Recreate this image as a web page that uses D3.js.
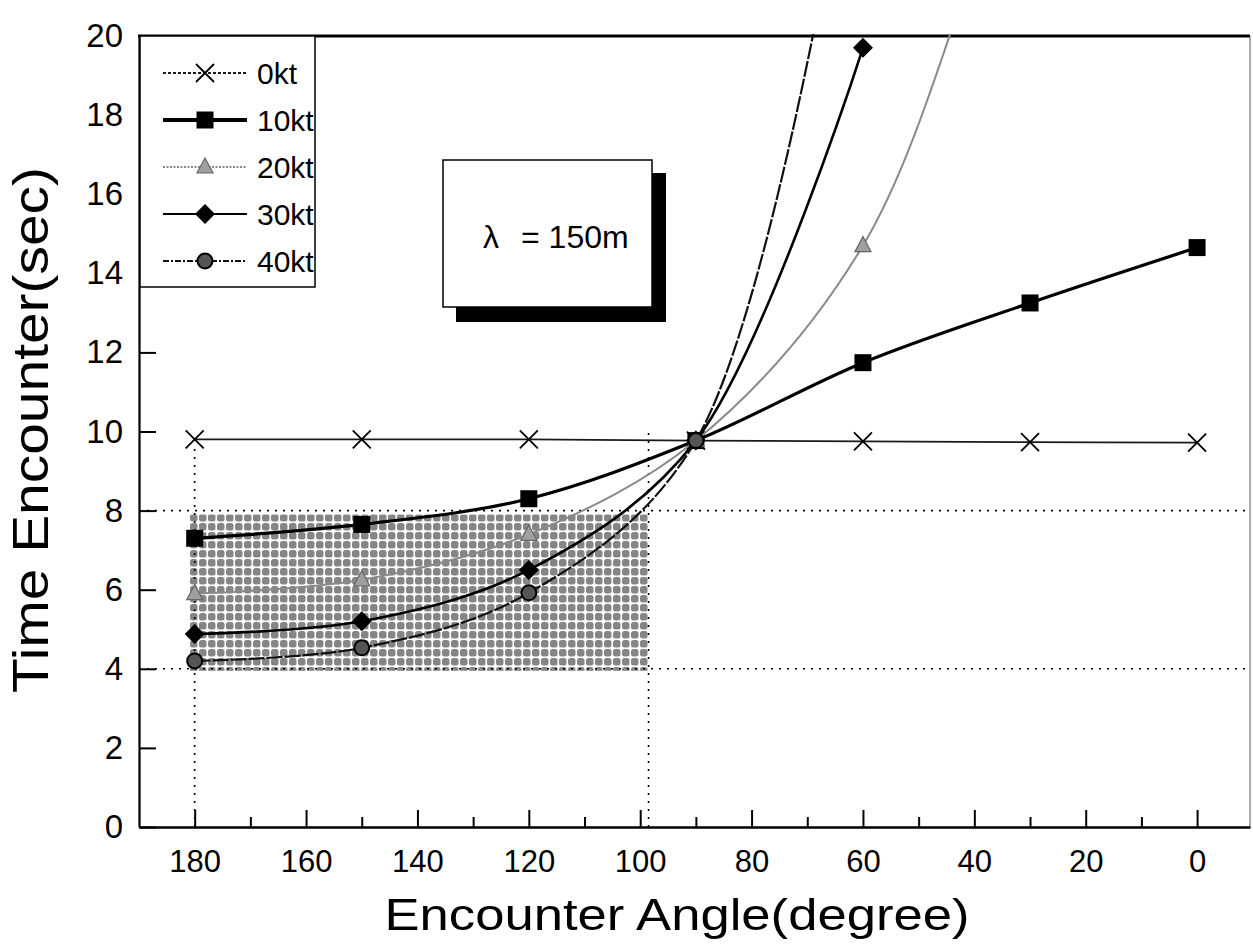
<!DOCTYPE html>
<html>
<head>
<meta charset="utf-8">
<script src="https://cdn.jsdelivr.net/npm/d3@7"></script>
<style>
  body { margin: 0; background: #fff; }
  text { font-family: "Liberation Sans", Arial, sans-serif; fill: #000; }
</style>
</head>
<body>
<svg></svg>
<script>
// Encounter angle (degree) and time encounter (sec) for each ship speed
const angles = [180, 150, 120, 90, 60, 30, 0];
const seriesNames = ["0kt", "10kt", "20kt", "30kt", "40kt"];
const time0kt  = [9.8, 9.8, 9.8, 9.77, 9.75, 9.73, 9.72];
const time10kt = [7.3, 7.65, 8.3, 9.77, 11.74, 13.25, 14.65];
const time20kt = [5.9, 6.25, 7.4, 9.77, 14.7, 25.5, 33.0];
const time30kt = [4.88, 5.2, 6.5, 9.77, 19.7];
const time40kt = [4.2, 4.53, 5.92, 9.77, 27.0];

const xMajorTicks = [180, 160, 140, 120, 100, 80, 60, 40, 20, 0];
const xMinorTicks = [170, 150, 130, 110, 90, 70, 50, 30, 10];
const yTicks = [0, 2, 4, 6, 8, 10, 12, 14, 16, 18, 20];

// reference lines and the shaded window
const refLevels = [8, 4];
const refAngles = [180, 98.5];
const refAngleTops = [9.7, 10];
const shadeAngles = [181, 98.5];
const shadeTimes = [3.95, 7.9];

const lambdaLabel = "= 150m";

const svgWidth = 1253, svgHeight = 945;
const plot = { left: 139, right: 1250, top: 36, bottom: 827 };

const svg = d3.select("svg")
    .attr("width", svgWidth)
    .attr("height", svgHeight)
    .style("background", "#fff");

const x = d3.scaleLinear().domain([190, -9.5]).range([plot.left, plot.right]);
const y = d3.scaleLinear().domain([0, 20]).range([plot.bottom, plot.top]);

// halftone pattern for the shaded window
const defs = svg.append("defs");
const pat = defs.append("pattern")
    .attr("id", "halftone")
    .attr("patternUnits", "userSpaceOnUse")
    .attr("width", 9).attr("height", 9);
pat.append("rect").attr("width", 9).attr("height", 9).attr("fill", "#fff");
pat.append("rect").attr("x", 1).attr("y", 1).attr("width", 7.5).attr("height", 7.5)
    .attr("rx", 2.5).attr("fill", "#858585");

defs.append("clipPath").attr("id", "plotClip")
    .append("rect")
    .attr("x", plot.left).attr("y", plot.top - 2)
    .attr("width", plot.right - plot.left).attr("height", plot.bottom - plot.top + 2);

// shaded window
svg.append("rect")
    .attr("x", x(shadeAngles[0]))
    .attr("y", y(shadeTimes[1]))
    .attr("width", x(shadeAngles[1]) - x(shadeAngles[0]))
    .attr("height", y(shadeTimes[0]) - y(shadeTimes[1]))
    .attr("fill", "url(#halftone)");

// dotted reference lines
refLevels.forEach(v => {
    svg.append("line")
        .attr("x1", plot.left).attr("x2", plot.right)
        .attr("y1", y(v)).attr("y2", y(v))
        .attr("stroke", "#000").attr("stroke-width", 1.6)
        .attr("stroke-dasharray", "2,6");
});
refAngles.forEach((a, i) => {
    svg.append("line")
        .attr("x1", x(a)).attr("x2", x(a))
        .attr("y1", y(0)).attr("y2", y(refAngleTops[i]))
        .attr("stroke", "#000").attr("stroke-width", 1.6)
        .attr("stroke-dasharray", "2,6");
});

// axes
const xAxis = svg.append("g")
    .attr("transform", `translate(0,${plot.bottom})`)
    .call(d3.axisBottom(x).tickValues(xMajorTicks).tickSize(-17).tickSizeOuter(0).tickPadding(23));
svg.append("g")
    .attr("transform", `translate(0,${plot.bottom})`)
    .call(d3.axisBottom(x).tickValues(xMinorTicks).tickSize(-10).tickSizeOuter(0).tickFormat(""))
    .select(".domain").remove();
const yAxis = svg.append("g")
    .attr("transform", `translate(${plot.left},0)`)
    .call(d3.axisLeft(y).tickValues(yTicks).tickSize(-17).tickSizeOuter(0).tickPadding(16));

svg.selectAll(".tick line").attr("stroke", "#000").attr("stroke-width", 2);
xAxis.select(".domain").attr("stroke", "#000").attr("stroke-width", 2.6);
yAxis.select(".domain").attr("stroke", "#000").attr("stroke-width", 2.2);
xAxis.selectAll(".tick text").style("font-size", "31px");
yAxis.selectAll(".tick text").style("font-size", "33px");

// top and right frame
svg.append("line")
    .attr("x1", plot.left - 1).attr("x2", plot.right)
    .attr("y1", plot.top).attr("y2", plot.top)
    .attr("stroke", "#000").attr("stroke-width", 3);
svg.append("line")
    .attr("x1", plot.right).attr("x2", plot.right)
    .attr("y1", plot.top).attr("y2", plot.bottom)
    .attr("stroke", "#555").attr("stroke-width", 1);

// axis titles
svg.append("text")
    .attr("x", 677).attr("y", 930)
    .attr("text-anchor", "middle")
    .attr("textLength", 585).attr("lengthAdjust", "spacingAndGlyphs")
    .style("font-size", "44px")
    .text("Encounter  Angle(degree)");
svg.append("text")
    .attr("transform", "translate(48,430) rotate(-90)")
    .attr("text-anchor", "middle")
    .attr("textLength", 526).attr("lengthAdjust", "spacingAndGlyphs")
    .style("font-size", "50px")
    .text("Time Encounter(sec)");

// marker shapes
const markers = {
    cross: "M-9,-9L9,9M-9,9L9,-9",
    square: "M-8.5,-8.5H8.5V8.5H-8.5Z",
    triangle: "M0,-9L8,6L-8,6Z",
    diamond: "M0,-10L10,0L0,10L-10,0Z",
    circle: "M-7.5,0A7.5,7.5 0 1,0 7.5,0A7.5,7.5 0 1,0 -7.5,0Z"
};

const styles = {
    "0kt":  { stroke: "#1a1a1a", width: 1.8, dash: null, marker: "cross", fill: "none", mstroke: "#000", mwidth: 1.8, legendDash: "3,2" },
    "10kt": { stroke: "#000", width: 3.2, dash: null, marker: "square", fill: "#000", mstroke: "#000", mwidth: 0, legendDash: null },
    "20kt": { stroke: "#8a8a8a", width: 2, dash: null, marker: "triangle", fill: "#a0a0a0", mstroke: "#666", mwidth: 1.2, legendDash: "2,1.5" },
    "30kt": { stroke: "#000", width: 2.6, dash: null, marker: "diamond", fill: "#000", mstroke: "#000", mwidth: 0, legendDash: null },
    "40kt": { stroke: "#111", width: 2.2, dash: "16,2", marker: "circle", fill: "#555", mstroke: "#000", mwidth: 2, legendDash: "6,2,2,2" }
};

const seriesValues = [time0kt, time10kt, time20kt, time30kt, time40kt];

const line = d3.line()
    .x(d => x(d.a))
    .y(d => y(d.t))
    .curve(d3.curveCatmullRom.alpha(0.5));

const plotG = svg.append("g").attr("clip-path", "url(#plotClip)");

seriesNames.forEach((name, i) => {
    const st = styles[name];
    const pts = seriesValues[i].map((t, j) => ({ a: angles[j], t: t }));
    plotG.append("path")
        .datum(pts)
        .attr("d", line)
        .attr("fill", "none")
        .attr("stroke", st.stroke)
        .attr("stroke-width", st.width)
        .attr("stroke-dasharray", st.dash);
    plotG.selectAll(null)
        .data(pts)
        .join("path")
        .attr("transform", d => `translate(${x(d.a)},${y(d.t)})`)
        .attr("d", markers[st.marker])
        .attr("fill", st.fill)
        .attr("stroke", st.mstroke)
        .attr("stroke-width", st.mwidth);
});

// legend
const legend = svg.append("g");
legend.append("rect")
    .attr("x", 140).attr("y", plot.top)
    .attr("width", 175).attr("height", 251)
    .attr("fill", "#fff").attr("stroke", "#000").attr("stroke-width", 1.5);

seriesNames.forEach((name, i) => {
    const st = styles[name];
    const g = legend.append("g").attr("transform", `translate(0,${73 + i * 47})`);
    g.append("line")
        .attr("x1", 163).attr("x2", 247)
        .attr("stroke", st.stroke)
        .attr("stroke-width", name === "10kt" ? 4 : Math.min(st.width, 2))
        .attr("stroke-dasharray", st.legendDash);
    g.append("path")
        .attr("transform", "translate(205,0)")
        .attr("d", markers[st.marker])
        .attr("fill", st.fill)
        .attr("stroke", st.mstroke)
        .attr("stroke-width", st.mwidth);
    g.append("text")
        .attr("x", 257).attr("y", 0).attr("dy", "0.36em")
        .style("font-size", "30px")
        .text(name);
});

// wavelength note with drop shadow
const note = svg.append("g");
note.append("rect")
    .attr("x", 456).attr("y", 173).attr("width", 210).attr("height", 149)
    .attr("fill", "#000");
note.append("rect")
    .attr("x", 443).attr("y", 160).attr("width", 209).attr("height", 147)
    .attr("fill", "#fff").attr("stroke", "#000").attr("stroke-width", 1.5);
note.append("text")
    .attr("x", 483).attr("y", 248)
    .style("font-size", "32px")
    .text("λ");
note.append("text")
    .attr("x", 521).attr("y", 248)
    .style("font-size", "32px")
    .text(lambdaLabel);
</script>
</body>
</html>
